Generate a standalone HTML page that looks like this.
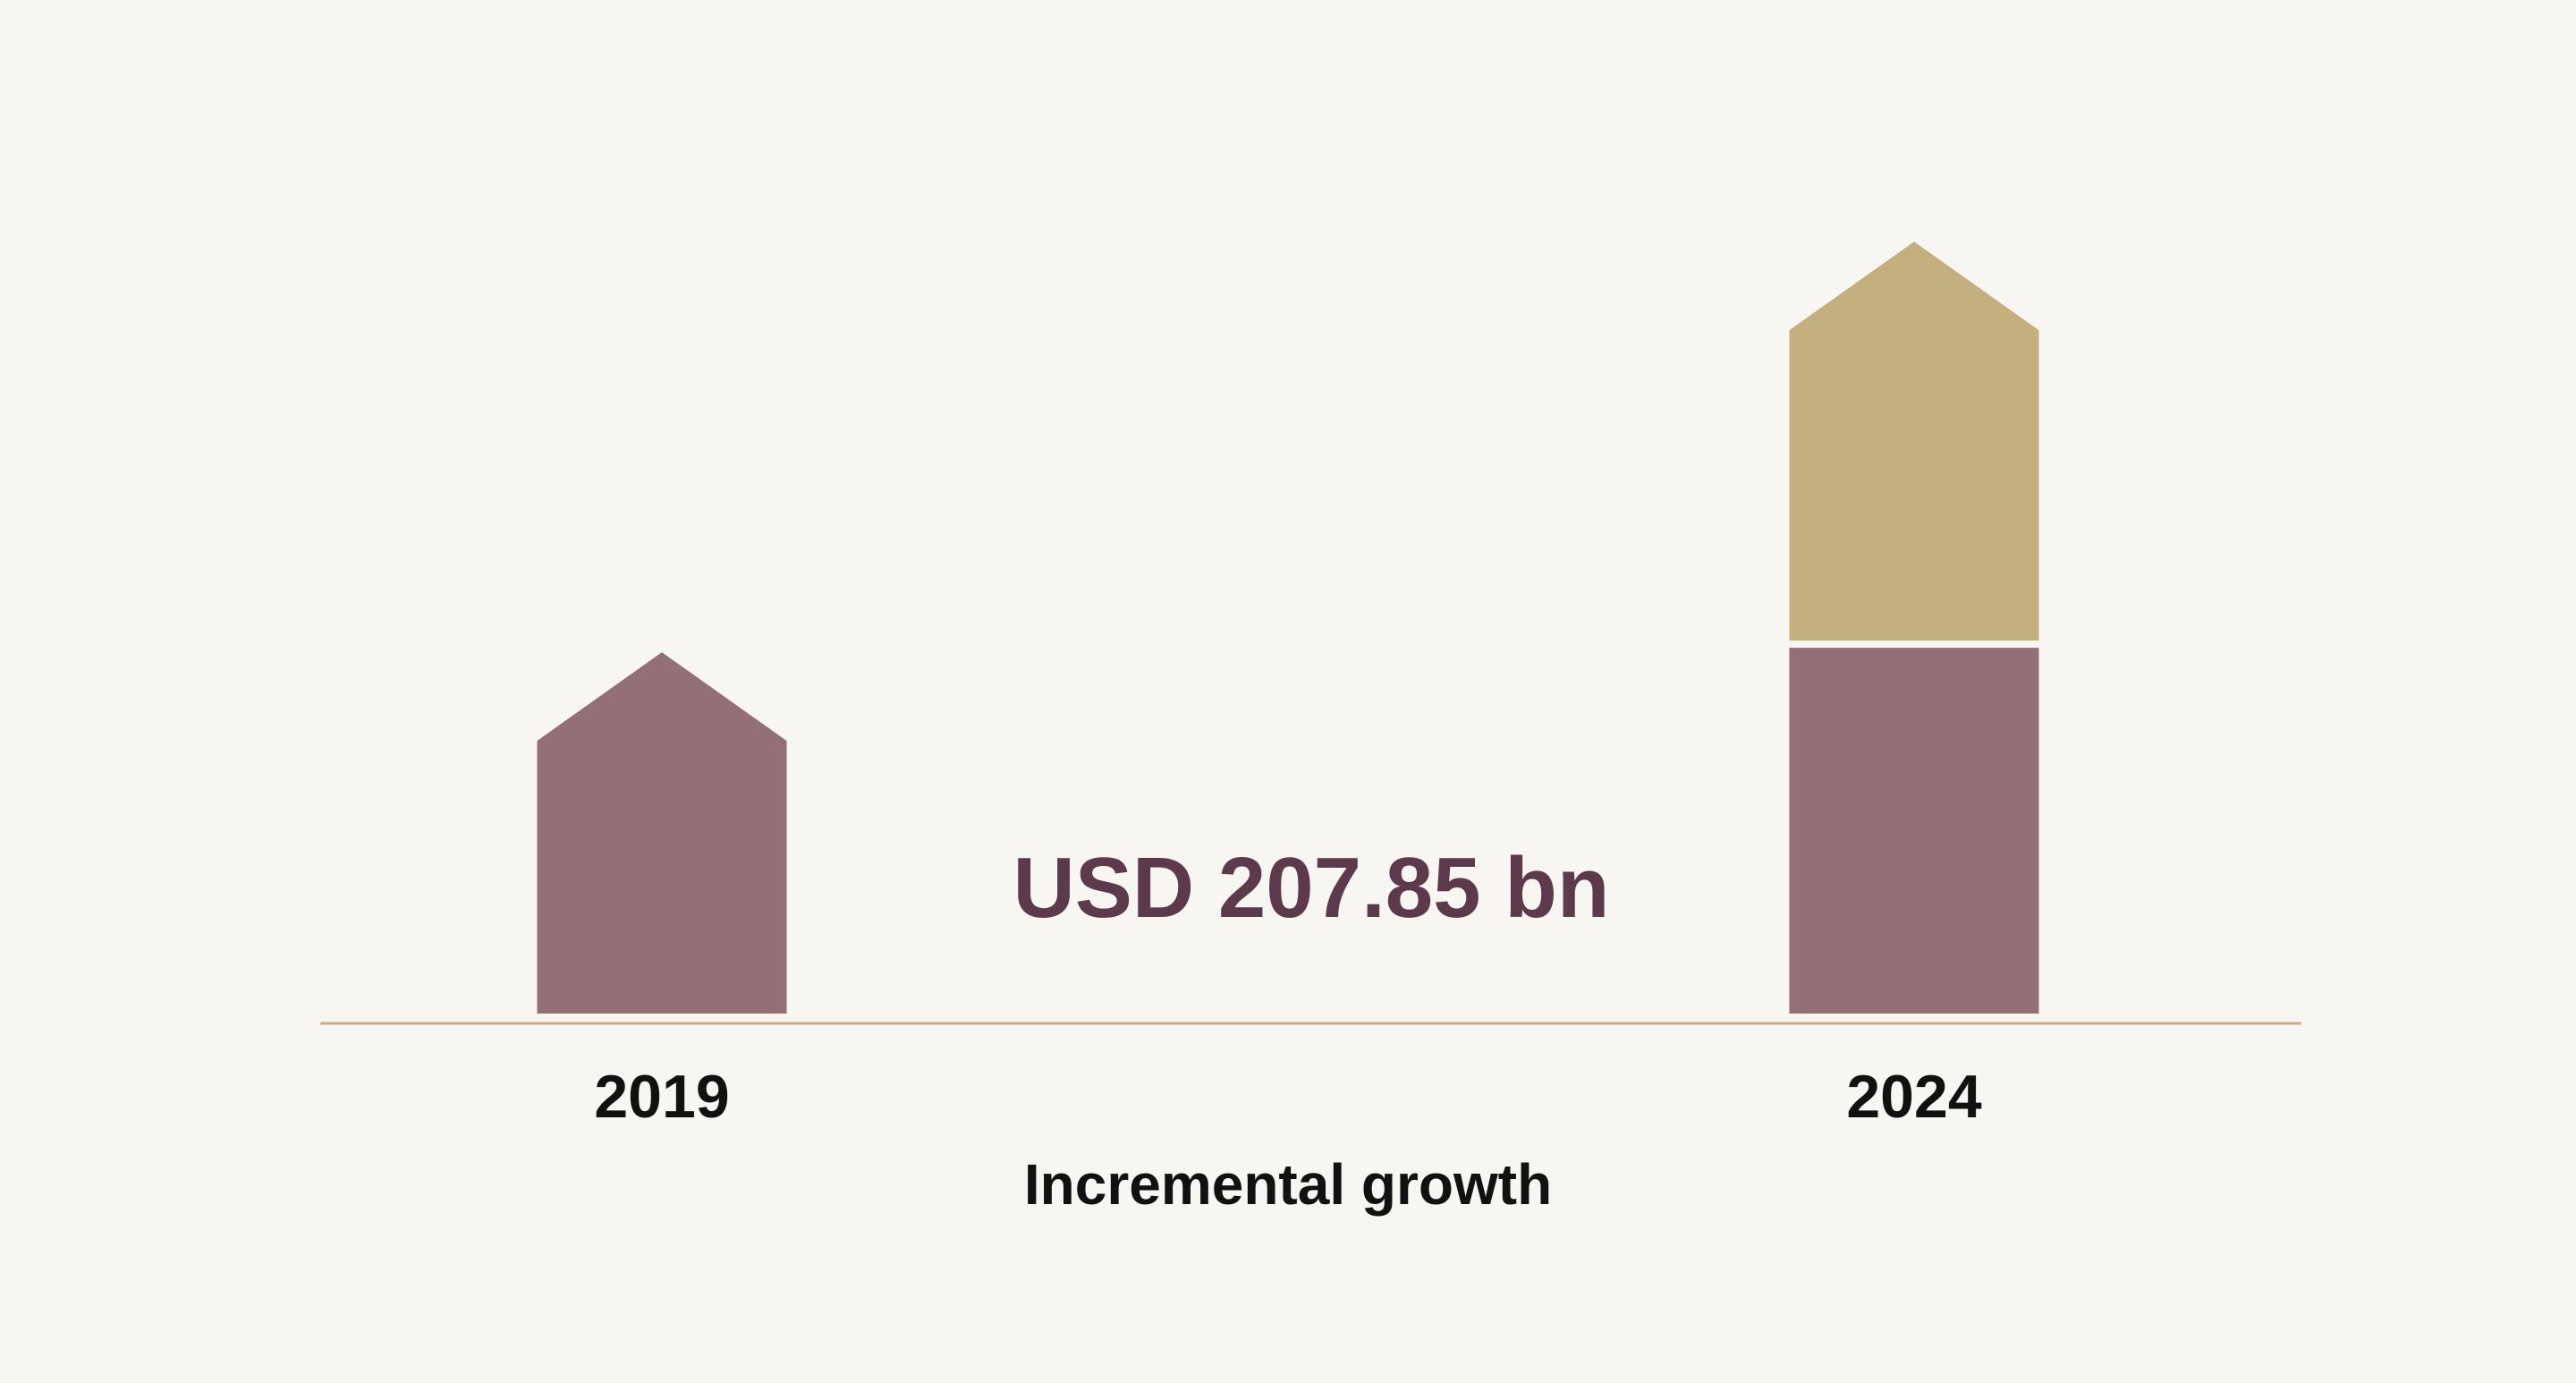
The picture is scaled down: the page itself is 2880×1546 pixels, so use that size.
<!DOCTYPE html>
<html><head><meta charset="utf-8"><style>
html,body{margin:0;padding:0;background:#f7f6f2;}
svg{display:block;}
text{font-family:"Liberation Sans",sans-serif;font-weight:bold;}
</style></head><body>
<svg id="chart" width="2880" height="1546" viewBox="0 0 2880 1546">
<rect width="2880" height="1546" fill="#f7f6f2"/>
<line x1="358" y1="1144" x2="2573" y2="1144" stroke="#c9b07c" stroke-width="3"/>
<g id="bars"></g>
<text x="1466" y="1025" text-anchor="middle" font-size="96" fill="#5c3a4c">USD 207.85 bn</text>
<text x="1440" y="1346" text-anchor="middle" font-size="64" fill="#111">Incremental growth</text>
</svg>
<script>
const categories = ["2019", "2024"];
const baseValues = [178.5, 239.4];
const incrementValues = [0, 207.85];

const NS = "http://www.w3.org/2000/svg";
const g = document.getElementById("bars");
const y0 = 1133, pxPer = 355 / 207.85, barW = 279, apex = 99;
const centers = [740, 2140];
function y(v){ return y0 - v * pxPer; }
function shape(cx, yb, yt, arrow, color, name){
  const x1 = cx - barW/2, x2 = cx + barW/2;
  let d = `M${x1},${yb} L${x1},${yt} `;
  if (arrow) d += `L${cx},${yt-apex} `;
  d += `L${x2},${yt} L${x2},${yb} Z`;
  const p = document.createElementNS(NS, "path");
  p.setAttribute("d", d);
  p.setAttribute("fill", color);
  
  
  g.appendChild(p);
}
categories.forEach((c, i) => {
  const cx = centers[i];
  const hasInc = incrementValues[i] > 0;
  const baseTop = y(baseValues[i]);
  shape(cx, y0, baseTop, !hasInc, "#937077", "bar-base-" + c);
  if (hasInc) {
    shape(cx, baseTop - 8, y(baseValues[i] + incrementValues[i]), true, "#c4b07f", "bar-increment-" + c);
  }
  const t = document.createElementNS(NS, "text");
  t.setAttribute("x", cx);
  t.setAttribute("y", 1249);
  t.setAttribute("text-anchor", "middle");
  t.setAttribute("font-size", "68");
  t.setAttribute("fill", "#111");
  
  
  t.textContent = c;
  g.appendChild(t);
});
</script>
</body></html>
